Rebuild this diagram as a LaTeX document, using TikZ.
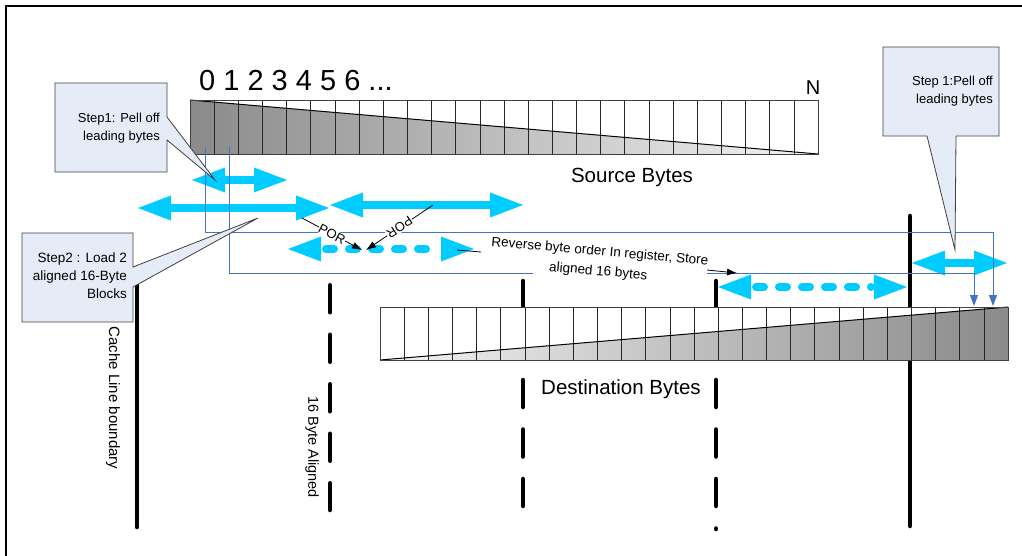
\documentclass[tikz,border=0pt]{standalone}
\usepackage{fontspec}
\setmainfont{Liberation Sans}
\usetikzlibrary{arrows.meta,calc}
\definecolor{cyanA}{HTML}{00CCFF}
\definecolor{blueL}{HTML}{4472C4}
\definecolor{callfill}{HTML}{E6ECF7}
\definecolor{callline}{HTML}{404040}
\definecolor{gdark}{HTML}{8A8A8A}
\definecolor{glight}{HTML}{F4F4F4}
\newcommand{\fs}[2]{\fontsize{#1}{#2}\selectfont}
\newcommand{\cyheads}[3]{%
  \fill[cyanA] (#1,#3) -- ++(33,-12.5) -- ++(0,25) -- cycle;
  \fill[cyanA] (#2,#3) -- ++(-33,-12.5) -- ++(0,25) -- cycle;}
\newcommand{\cyarrow}[3]{\cyheads{#1}{#2}{#3}%
  \fill[cyanA] ($(#1,#3)+(32,-4)$) rectangle ($(#2,#3)+(-32,4)$);}
\newcommand{\cydash}[3]{\cyheads{#1}{#2}{#3}%
  \draw[cyanA, line width=8pt, line cap=round, dash pattern=on 8pt off 15pt] ($(#1,#3)+(38,0)$) -- ($(#2,#3)+(-36,0)$);}
\begin{document}
\begin{tikzpicture}[x=1pt,y=-1pt,
  bound/.style={line width=4.5pt, line cap=round},
  dbound/.style={bound, dash pattern=on 27pt off 22.5pt},
  bluel/.style={blueL, line width=1pt},
  bluearr/.style={bluel, -{Triangle[length=11pt,width=8pt]}},
  callout/.style={fill=callfill, draw=callline, line width=0.8pt},
  calltext/.style={anchor=east, align=right, inner sep=0pt, font=\fs{13}{17.5}},
  cell/.style={draw=black!85, line width=0.7pt},
  stripb/.style={draw=callline, line width=1pt},
  porlab/.style={sloped, allow upside down, fill=white, inner sep=0.5pt, font=\fs{13}{15}},
  blk/.style={black, line width=0.8pt, -{Latex[length=10pt,width=7pt]}}]
\useasboundingbox (0,0) rectangle (1022,555);
% frame
\draw[line width=2pt] (6,556) -- (6,6) -- (1023,6);

% boundary lines
\draw[bound] (137,280) -- (137,527);
\draw[dbound] (330,285.25) -- (330,510);
\draw[dbound] (523,281) -- (523,506);
\draw[dbound] (716,281) -- (716,529);
\draw[bound] (910,216) -- (910,526);

% source strip
\fill[white] (190,100) rectangle (818,154);
\shade[left color=gdark, right color=glight] (190,100) -- (818,154) -- (190,154) -- cycle;
\foreach \i in {1,...,25} \draw[cell] (190+\i*24.1538,100) -- ++(0,54);
\draw[black, line width=1pt] (190,100) -- (818,154);
\draw[stripb] (190,100) rectangle (818,154);

% destination strip
\fill[white] (380,307) rectangle (1008,360);
\shade[left color=glight, right color=gdark] (380,360) -- (1008,307) -- (1008,360) -- cycle;
\foreach \i in {1,...,25} \draw[cell] (380+\i*24.1538,307) -- ++(0,53);
\draw[black, line width=1pt] (380,360) -- (1008,307);
\draw[stripb] (380,307) rectangle (1008,360);

% labels of strips
\node[anchor=base west, inner sep=0pt, font=\fs{29}{30}] (nums) at (199,90) {0 1 2 3 4 5 6 ...};
\node[anchor=base, inner sep=0pt, font=\fs{20}{22}] (nn) at (813,94) {N};
\node[anchor=base, inner sep=0pt, font=\fs{20.5}{22}] (src) at (632,182) {Source Bytes};
\node[anchor=base, inner sep=0pt, font=\fs{20.5}{22}] (dst) at (621,394) {Destination Bytes};
\node[rotate=-90, inner sep=0pt, font=\fs{15}{18}] (clb) at (113,398) {Cache Line boundary};
\node[rotate=-90, inner sep=0pt, font=\fs{14.5}{18}] (sba) at (312,447) {16 Byte Aligned};

% cyan arrows
\cyarrow{192}{287}{180}
\cyarrow{138}{329}{208}
\cyarrow{330}{523}{205}
\cydash{288}{474}{249}
\cydash{718}{907}{287}
\cyarrow{912}{1007}{263}

% blue lines
\draw[bluearr] (205,147) -- (205,232) -- (993,232) -- (993,306);
\draw[bluel] (229,147) -- (229,273) -- (533,273);
\draw[bluearr] (707,273) -- (974,273) -- (974,306);

% reverse text
\node[rotate=-5, align=center, inner sep=1pt, font=\fs{13.5}{20}] (rev) at (599,262) {Reverse byte order In register, Store\\aligned 16 bytes};
\coordinate (dA) at (457,250);
\coordinate (dB) at (481,252);
\draw[black, line width=0.8pt] (dA) -- (dB);
\coordinate (eA) at (707,270);
\coordinate (eB) at (737,273);
\draw[blk] (eA) -- (eB);

% POR arrows
\coordinate (p1a) at (302,218);
\coordinate (p1b) at (362,250);
\coordinate (p2a) at (433,205);
\coordinate (p2b) at (366,250);
\draw[blk] (p1a) -- node[porlab] (por1) {POR} (p1b);
\draw[blk] (p2a) -- node[porlab] (por2) {POR} (p2b);

% callouts
\filldraw[callout] (55,83) -- (167,83) -- (167,117) -- (215,180) -- (167,140) -- (167,172) -- (55,172) -- cycle;
\node[calltext] (c1) at (160,128) {Step1: Pell off\\leading bytes};
\filldraw[callout] (22,233) -- (133,233) -- (133,267) -- (258,218) -- (133,287) -- (133,322) -- (22,322) -- cycle;
\node[calltext, font=\fs{13.5}{18}] (c2) at (127,276) {Step2 : Load 2\\aligned 16-Byte\\Blocks};
\filldraw[callout] (883,47) -- (999,47) -- (999,136) -- (956,136) -- (955,250) -- (927,136) -- (883,136) -- cycle;
\node[calltext] (c3) at (993,91) {Step 1:Pell off\\leading bytes};
\end{tikzpicture}
\end{document}
